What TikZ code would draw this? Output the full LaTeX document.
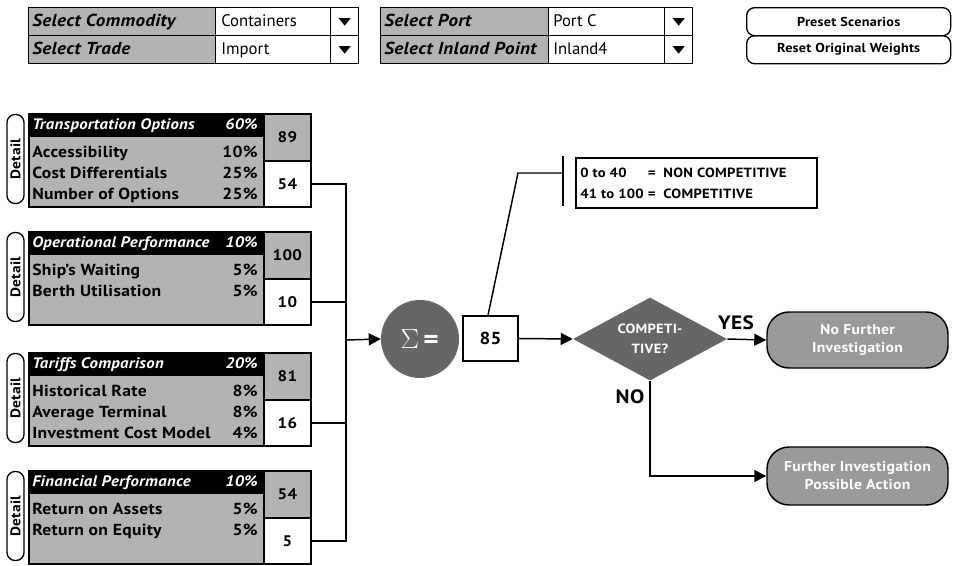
\documentclass[tikz,border=0pt]{standalone}
\usepackage{fontspec}
\setmainfont{PT Sans}[
  BoldFeatures={FakeStretch=1.1,LetterSpace=2},
  BoldItalicFeatures={FakeStretch=1.1,LetterSpace=2}]
\usetikzlibrary{shapes.geometric,arrows.meta,calc}
\definecolor{cellgray}{RGB}{179,179,179}
\definecolor{darkfill}{RGB}{102,102,102}
\definecolor{resultgray}{RGB}{153,153,153}

% one block of weighted criteria: #1 name prefix, #2 top, #3 title, #4 weight,
% #5 rows (label/weight), #6 score, #7 weighted score
\newcommand\criteriablock[7]{%
  \begin{scope}[shift={(0,#2)}]
    \node[box, fill=cellgray, sz={235}{93}] (#1main) at (28,0) {};
    \node[box, fill=black, sz={235}{22}] (#1head) at (28,0) {};
    \node[headtxt, anchor=base west] (#1title) at (32,16) {#3};
    \node[headtxt, anchor=base east] (#1weight) at (258,16) {#4};
    \foreach \t/\p [count=\i] in {#5} {
      \node[rowtxt, anchor=base west] (#1r\i) at (32,23+21*\i) {\t};
      \node[rowtxt, anchor=base east] (#1p\i) at (258,23+21*\i) {\p};
    }
    \node[box, fill=cellgray, sz={47}{47}, numtxt] (#1vu) at (263,0) {#6};
    \node[box, fill=white, sz={47}{46}, numtxt] (#1vl) at (263,47) {#7};
    \node[pill, rotate=90, minimum width={89*0.75pt}, minimum height={17*0.75pt}]
      (#1det) at (15.5,46) {Detail};
  \end{scope}}

\begin{document}
\begin{tikzpicture}[x=0.75pt,y=-0.75pt,
  sz/.style 2 args={minimum width={#1*0.75pt}, minimum height={#2*0.75pt}},
  box/.style={rectangle, draw, line width=1.3pt, inner sep=0pt, anchor=north west},
  cellbox/.style={rectangle, draw, line width=1pt, inner sep=0pt, anchor=north west},
  selttxt/.style={font=\fontsize{13}{15}\selectfont\bfseries\itshape, inner sep=0pt},
  valtxt/.style={font=\fontsize{12.5}{14}\selectfont, inner sep=0pt},
  btn/.style={rectangle, draw, line width=1pt, rounded corners={8*0.75pt}, inner sep=0pt,
    anchor=north west, font=\fontsize{9.7}{11}\selectfont\bfseries},
  headtxt/.style={font=\fontsize{11.4}{14}\selectfont\bfseries\itshape, text=white, inner sep=0pt},
  rowtxt/.style={font=\fontsize{12}{14}\selectfont\bfseries, inner sep=0pt},
  numtxt/.style={font=\fontsize{11.5}{13}\selectfont\bfseries},
  pill/.style={rectangle, draw, line width=1pt, rounded corners={8*0.75pt}, fill=white,
    inner sep=0pt, font=\fontsize{10.5}{12}\selectfont\bfseries},
  conn/.style={line width=1.1pt},
  arr/.style={line width=1.1pt, -{Triangle[length=9pt,width=9pt]}},
  result/.style={rectangle, draw, line width=1.1pt, fill=resultgray, rounded corners={22*0.75pt},
    text=white, align=center, inner sep=0pt, font=\fontsize{10.7}{13.5}\selectfont\bfseries},
  answer/.style={font=\fontsize{14.5}{16}\selectfont\bfseries, inner sep=0pt}
]
\useasboundingbox (0,0) rectangle (953,565);

% ---- selection tables ----
\node[cellbox, fill=cellgray, sz={187}{28}] (comL) at (28,7) {};
\node[cellbox, fill=white, sz={115}{28}] (comV) at (215,7) {};
\node[cellbox, fill=white, sz={28}{28}] (comD) at (330,7) {};
\node[cellbox, fill=cellgray, sz={187}{28}] (trdL) at (28,35) {};
\node[cellbox, fill=white, sz={115}{28}] (trdV) at (215,35) {};
\node[cellbox, fill=white, sz={28}{28}] (trdD) at (330,35) {};
\node[selttxt, anchor=base west] (comLt) at (32,26) {Select Commodity};
\node[valtxt, anchor=base west] (comVt) at (221,26) {Containers};
\node[selttxt, anchor=base west] (trdLt) at (32,54) {Select Trade};
\node[valtxt, anchor=base west] (trdVt) at (221,54) {Import};

\node[cellbox, fill=cellgray, sz={168}{28}] (prtL) at (380,7) {};
\node[cellbox, fill=white, sz={116}{28}] (prtV) at (548,7) {};
\node[cellbox, fill=white, sz={28}{28}] (prtD) at (664,7) {};
\node[cellbox, fill=cellgray, sz={168}{28}] (inlL) at (380,35) {};
\node[cellbox, fill=white, sz={116}{28}] (inlV) at (548,35) {};
\node[cellbox, fill=white, sz={28}{28}] (inlD) at (664,35) {};
\node[selttxt, anchor=base west] (prtLt) at (384,26) {Select Port};
\node[valtxt, anchor=base west] (prtVt) at (553,26) {Port C};
\node[selttxt, anchor=base west] (inlLt) at (384,54) {Select Inland Point};
\node[valtxt, anchor=base west] (inlVt) at (553,54) {Inland4};

% drop-down markers
\foreach \d in {comD,trdD,prtD,inlD}
  \fill ($(\d.center)+(-6,-3.5)$) -- ++(12,0) -- ++(-6,7.5) -- cycle;

% ---- buttons ----
\node[btn, sz={204}{28}] (preset) at (746,7) {Preset Scenarios};
\node[btn, sz={204}{28}] (reset) at (746,35) {Reset Original Weights};

% ---- criteria blocks ----
\criteriablock{a}{113}{Transportation Options}{60\%}
  {Accessibility/10\%,Cost Differentials/25\%,Number of Options/25\%}{89}{54}
\criteriablock{b}{231}{Operational Performance}{10\%}
  {Ship’s Waiting/5\%,Berth Utilisation/5\%}{100}{10}
\criteriablock{c}{352}{Tariffs Comparison}{20\%}
  {Historical Rate/8\%,Average Terminal/8\%,Investment Cost Model/4\%}{81}{16}
\criteriablock{d}{470}{Financial Performance}{10\%}
  {Return on Assets/5\%,Return on Equity/5\%}{54}{5}

% ---- summation ----
\coordinate (bus) at (346,340);
\foreach \v in {avl,bvl,cvl,dvl}
  \draw[conn] (\v.east) -| (bus);

\node[circle, fill=darkfill, minimum size={78*0.75pt}, inner sep=0pt, text=white,
  font=\fontsize{20}{22}\selectfont] (sum) at (420,339) {$\Sigma$\,\textbf{=}};
\draw[arr] (bus) -- (sum.west);

\node[rectangle, draw, line width=1.2pt, sz={55}{45}, inner sep=0pt,
  font=\fontsize{13}{15}\selectfont\bfseries] (total) at (490.5,338.5) {85};

% ---- legend ----
\node[box, line width=1.2pt, sz={241}{50}] (legend) at (575,157) {};
\node[anchor=west, inner sep=0pt, font=\fontsize{10}{15.75}\selectfont\bfseries] (legt) at (580,183.5)
  {\begin{tabular}{@{}l@{\ }l@{\ \ }l@{}}0 to 40 & = & NON COMPETITIVE\\ 41 to 100 & = & COMPETITIVE\end{tabular}};
\coordinate (bend) at (518,173);
\coordinate (tick) at (563,173);
\coordinate (tickT) at (563,156);
\coordinate (tickB) at (563,206);
\draw[conn] ([xshift=-2.5*0.75pt]total.north) -- (bend) -- (tick);
\draw[conn] (tickT) -- (tickB);

% ---- decision ----
\node[diamond, fill=darkfill, minimum width={154*0.75pt}, minimum height={83*0.75pt}, aspect=1.85,
  inner sep=0pt, text=white, align=center, font=\fontsize{10}{15}\selectfont\bfseries]
  (decide) at (650,339) {COMPETI-\\TIVE?};
\draw[arr] (total.east) -- (decide.west);

\node[result, sz={181}{56}] (nofurther) at (857.5,340) {No Further\\Investigation};
\node[result, sz={181}{58}] (further) at (857.5,476) {Further Investigation\\Possible Action};

\draw[arr] (decide.east) -- (nofurther.west);
\draw[arr] (decide.south) |- (further.west);

\node[answer] (yes) at (736,323) {YES};
\node[answer] (no) at (630,397) {NO};
\end{tikzpicture}
\end{document}
